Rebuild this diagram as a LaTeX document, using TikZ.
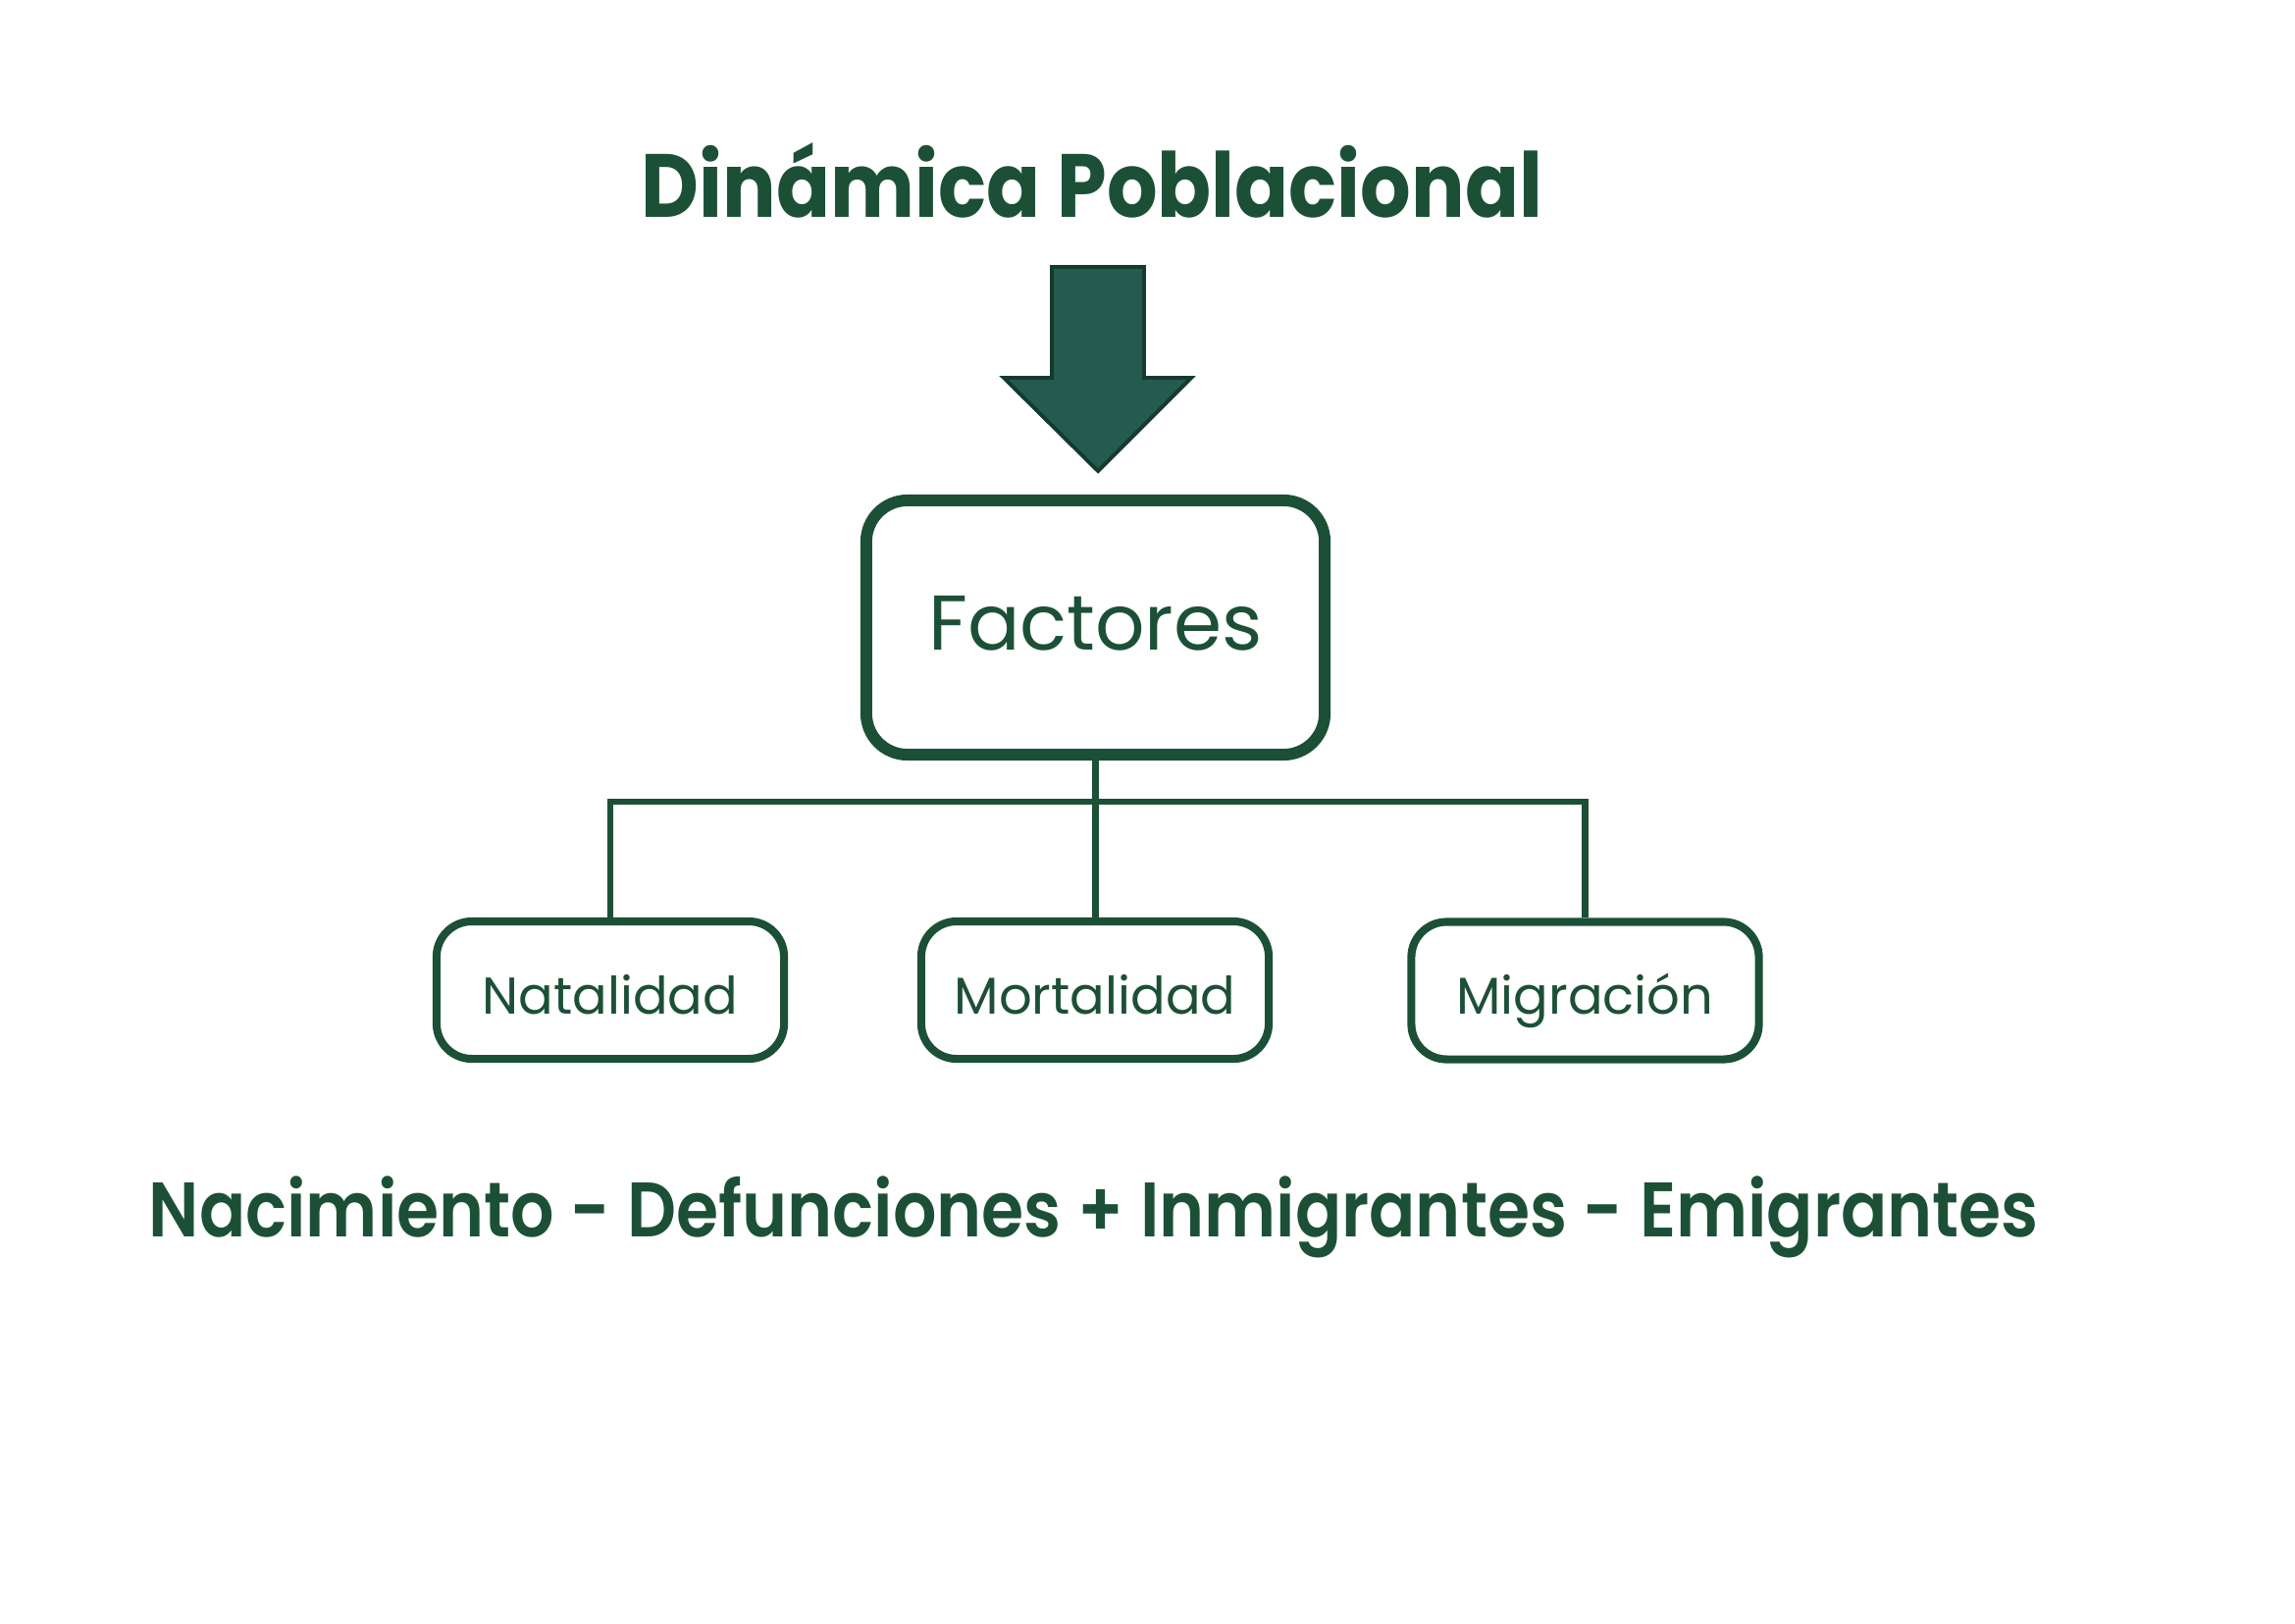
\documentclass[tikz,border=0pt]{standalone}
\usepackage{fontspec}
\setmainfont{Poppins}
\newfontfamily\semib[FakeStretch=0.886]{Poppins SemiBold}
\newfontfamily\titlef[FakeStretch=0.887]{Poppins Bold}
\usetikzlibrary{calc}
\definecolor{dgreen}{HTML}{1C5036}
\definecolor{arrowfill}{HTML}{235B4E}
\definecolor{arrowedge}{HTML}{163A30}
\tikzset{
  bigbox/.style={draw=dgreen, line width=3.4pt, rounded corners=0.42cm, minimum width=4.67cm, minimum height=2.59cm, inner sep=0pt, text=dgreen, font=\fontsize{22.5}{26}\selectfont, text height=0.45cm, text depth=0pt},
  smallbox/.style={draw=dgreen, line width=2.3pt, rounded corners=0.36cm, minimum width=3.54cm, minimum height=1.40cm, inner sep=0pt, text=dgreen, font=\fontsize{15}{18}\selectfont, text height=0.48cm, text depth=0pt},
  conn/.style={draw=dgreen, line width=1.9pt},
  titletext/.style={text=dgreen, font=\fontsize{26}{30}\selectfont\titlef, anchor=base, inner sep=0pt},
  formula/.style={text=dgreen, font=\fontsize{22.4}{26}\selectfont\semib, anchor=base, inner sep=0pt}
}
\begin{document}
\begin{tikzpicture}[x=0.01cm, y=-0.01cm]
\path[use as bounding box, fill=white] (0,0) rectangle (2339,1654);
\node[titletext] (title) at (1113,221) {Dinámica Poblacional};
\draw[fill=arrowfill, draw=arrowedge, line width=1.1pt, line join=miter]
  (1072,272) -- (1166,272) -- (1166,385) -- (1214,385) -- (1119,480) -- (1023,385) -- (1072,385) -- cycle;
\node[bigbox] (F) at (1116.5,639.5) {Factores};
\node[smallbox] (N) at (622,1009) {Natalidad};
\node[smallbox] (M) at (1116,1009) {Mortalidad};
\node[smallbox] (G) at (1615.5,1009.5) {Migración};
\coordinate (bus) at (1116,817);
\draw[conn] (F.south) -- (F.south |- M.north);
\draw[conn] (N.north) |- (bus) -| (G.north);
\node[formula] (eq) at (1115,1260) {Nacimiento - Defunciones + Inmigrantes - Emigrantes};
\end{tikzpicture}
\end{document}
